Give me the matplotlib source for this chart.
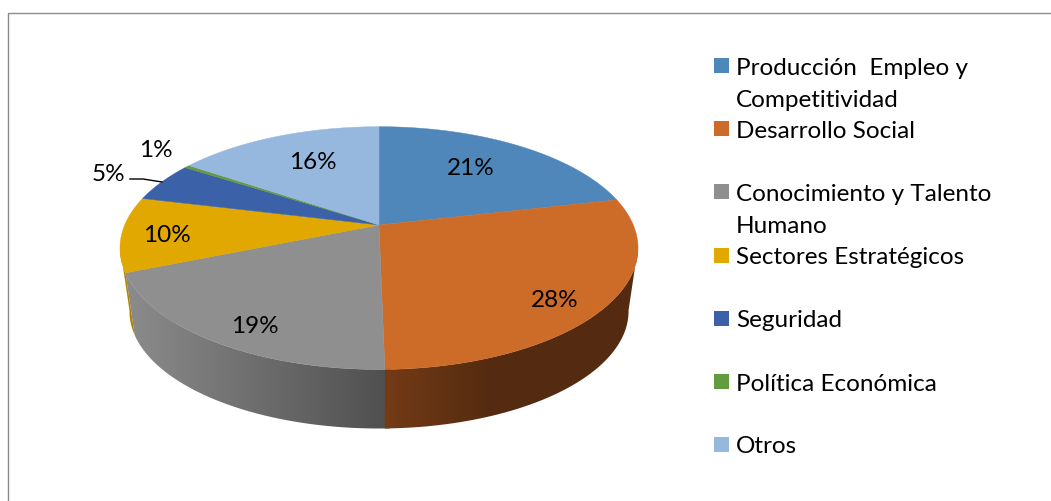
import numpy as np
import matplotlib
matplotlib.use("Agg")
import matplotlib.pyplot as plt
from matplotlib.patches import Polygon, Rectangle
from matplotlib.colors import LinearSegmentedColormap

categories = ["Producción  Empleo y\nCompetitividad", "Desarrollo Social",
              "Conocimiento y Talento\nHumano", "Sectores Estratégicos",
              "Seguridad", "Política Económica", "Otros"]
shares = [21.4, 28.3, 19.1, 10.0, 5.3, 0.4, 15.5]
value_labels = ["21%", "28%", "19%", "10%", "5%", "1%", "16%"]
colors = ["#4f87ba", "#cd6b28", "#8f8f8f", "#e0a800", "#3b62a9", "#629c3f", "#96b8de"]

label_xy = [(471, 169), (555, 301), (255, 327), (167, 236), (108, 175), (156, 151), (313, 163)]
legend_box_top = [59, 122, 185, 249, 312, 375, 438]
legend_baseline = [75, 138, 201, 264, 327, 391, 453]
LINE_H = 32

FONT = "Lato"
FS = 17.5

plt.rcParams["font.family"] = [FONT, "DejaVu Sans"]
fig = plt.figure(figsize=(10.51, 5.02), dpi=100)
ax = fig.add_axes([0, 0, 1, 1])
ax.set_xlim(0, 1051)
ax.set_ylim(502, 0)
ax.axis("off")

PERSP = 0.19


def top_pt(theta):
    u, v = np.sin(theta), np.cos(theta)
    w = 1 + PERSP * v
    return 379 + 254.3 * u / w, 226 - 117 * v / w


def bot_pt(theta):
    u, v = np.sin(theta), np.cos(theta)
    w = 1 + PERSP * v
    return 379 + 245 * u / w, 290 - 113 * v / w


def arc(fn, a0, a1, n=200):
    t = np.linspace(a0, a1, n)
    x, y = fn(t)
    return np.column_stack([x, y])


edges = np.deg2rad(np.concatenate([[0], np.cumsum(shares)]) * 3.6)

# side wall: visible between the two silhouette angles
SIL_R, SIL_L = np.deg2rad(100.5), np.deg2rad(259.5)
wall_maps = {
    2: LinearSegmentedColormap.from_list("g", [(0, "#8c8c8c"), (0.96, "#505050"), (1, "#505050")]),
    1: LinearSegmentedColormap.from_list("o", [(0, "#743b16"), (0.42, "#542b10"), (1, "#542b10")]),
    3: LinearSegmentedColormap.from_list("y", ["#b98d00", "#a57e00"]),
}
wall_extent = {2: (125, 396), 1: (384, 640), 3: (118, 140)}
grad = np.linspace(0, 1, 256).reshape(1, -1)
for z, i in enumerate([2, 1, 3]):
    a0, a1 = max(edges[i], SIL_R), min(edges[i + 1], SIL_L)
    if i == 2:
        a0 -= np.deg2rad(1.0)  # tuck under the neighbouring wall so no seam shows
    poly = np.vstack([arc(top_pt, a0, a1), arc(bot_pt, a1, a0)])
    patch = Polygon(poly, closed=True, facecolor="none", edgecolor="none", transform=ax.transData)
    ax.add_patch(patch)
    x0, x1 = wall_extent[i]
    im = ax.imshow(grad, cmap=wall_maps[i], extent=(x0, x1, 440, 190), aspect="auto", zorder=2 + z * 0.1)
    im.set_clip_path(patch)
ax.set_xlim(0, 1051)
ax.set_ylim(502, 0)

# top face
cx, cy = 379, 226
for i, c in enumerate(colors):
    poly = np.vstack([[cx, cy], arc(top_pt, edges[i], edges[i + 1])])
    ax.add_patch(Polygon(poly, closed=True, facecolor=c, edgecolor=c, linewidth=0.3, zorder=3))

# data labels
for (x, y), t in zip(label_xy, value_labels):
    ax.text(x, y, t, ha="center", va="center", fontsize=FS, color="black", zorder=5)
ax.plot([130, 143, 162], [180, 180, 183], color="black", lw=1.0, zorder=5)

# legend
for c, name, top, base in zip(colors, categories, legend_box_top, legend_baseline):
    ax.add_patch(Rectangle((714, top), 15, 15, facecolor=c, edgecolor="none", zorder=4))
    for j, line in enumerate(name.split("\n")):
        ax.text(736, base + j * LINE_H, line, ha="left", va="baseline",
                fontsize=FS, color="black", zorder=5)

# frame
ax.plot([7.5, 7.5, 1051], [502, 13.5, 13.5], color="#8c8c8c", lw=1.0, zorder=1, solid_joinstyle="miter")

fig.savefig("out.png", dpi=100, facecolor="white")
